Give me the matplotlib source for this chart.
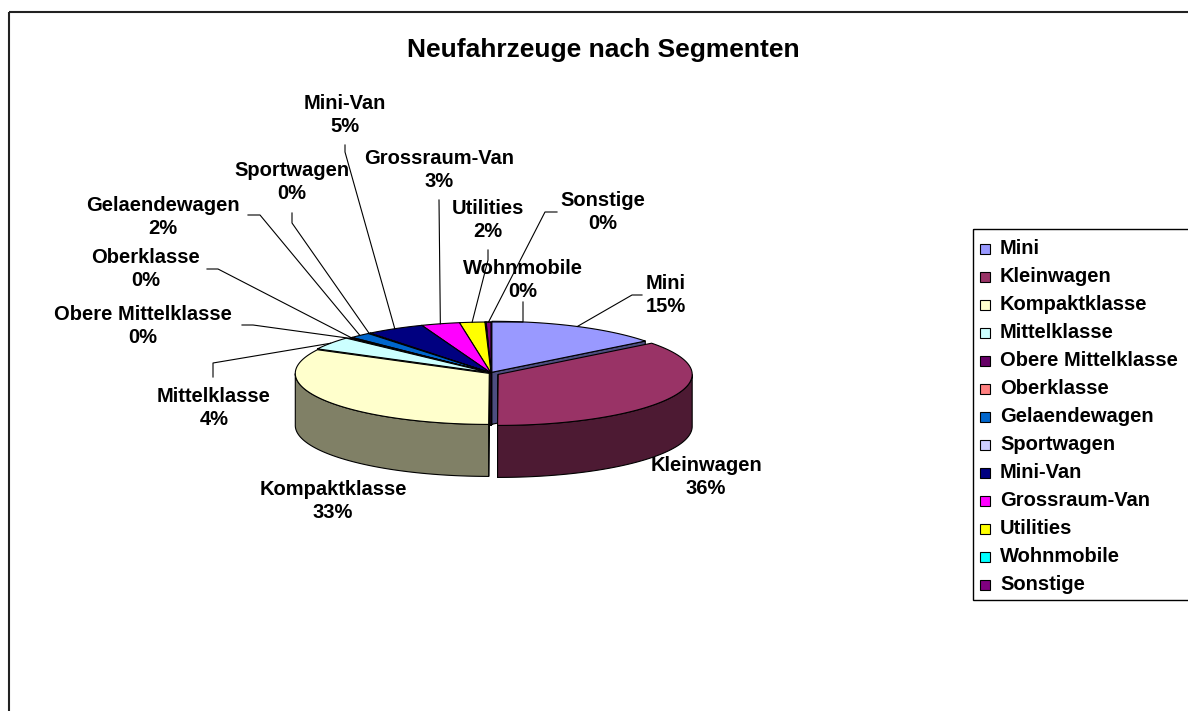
import numpy as np
import matplotlib.pyplot as plt
import matplotlib.colors as mcolors
from matplotlib.patches import Polygon, Rectangle

plt.rcParams['font.family'] = ['Liberation Sans', 'DejaVu Sans']

# Data
segments = ['Mini', 'Kleinwagen', 'Kompaktklasse', 'Mittelklasse', 'Obere Mittelklasse',
            'Oberklasse', 'Gelaendewagen', 'Sportwagen', 'Mini-Van', 'Grossraum-Van',
            'Utilities', 'Wohnmobile', 'Sonstige']
shares = [14.5, 35.5, 32.6, 4.1, 0.3, 0.2, 1.8, 0.2, 4.9, 3.2, 2.1, 0.1, 0.4]
colors = ['#9999FF', '#993366', '#FFFFCC', '#CCFFFF', '#660066', '#FF8080', '#0066CC',
          '#CCCCFF', '#000080', '#FF00FF', '#FFFF00', '#00FFFF', '#800080']
title = 'Neufahrzeuge nach Segmenten'

# Layout (pixels)
W, H = 1188, 711
cx, cy, a, b, depth = 491, 373, 194, 51, 52
explode = [2, 8, 2, 2, 0, 0, 0, 0, 0, 0, 0, 0, 0]
label_pos = {
    'Mini': (666, 282), 'Kleinwagen': (706, 464), 'Kompaktklasse': (333, 488),
    'Mittelklasse': (214, 395), 'Obere Mittelklasse': (143, 313), 'Oberklasse': (146, 256),
    'Gelaendewagen': (163, 204), 'Sportwagen': (292, 169), 'Mini-Van': (345, 102),
    'Grossraum-Van': (439, 157), 'Utilities': (488, 207), 'Wohnmobile': (523, 267),
    'Sonstige': (603, 199),
}
leaders = {
    'Mini': [(642, 295), (632, 295)], 'Mittelklasse': [(213, 377), (213, 363)],
    'Obere Mittelklasse': [(242, 325), (253, 325)], 'Oberklasse': [(207, 269), (218, 269)],
    'Gelaendewagen': [(248, 215), (260, 215)], 'Sportwagen': [(292, 213), (292, 223)],
    'Mini-Van': [(345, 145), (345, 152)], 'Grossraum-Van': [(439, 200)],
    'Utilities': [(488, 250), (488, 260)], 'Wohnmobile': [(523, 302), (523, 322)],
    'Sonstige': [(557, 212), (545, 212)],
}
fs = 14.5

fig = plt.figure(figsize=(W / 100, H / 100), dpi=100)
ax = fig.add_axes([0, 0, 1, 1])
ax.set_xlim(0, W)
ax.set_ylim(H, 0)
ax.axis('off')

# chart frame
ax.add_patch(Rectangle((9, 12), 1400, 900, fill=False, ec='#222222', lw=1.5))


def dark(c, f=0.5):
    return tuple(np.array(mcolors.to_rgb(c)) * f)


fr = np.array(shares) / np.sum(shares)
ends = 90 - 360 * np.cumsum(fr)
starts = ends + 360 * fr
mids = np.radians((starts + ends) / 2)

slices = []
for i in range(len(segments)):
    t1, t2 = np.radians(starts[i]), np.radians(ends[i])
    ox = explode[i] * np.cos(mids[i])
    oy = -explode[i] * np.sin(mids[i]) * 0.4
    slices.append((i, t1, t2, ox, oy))

order = sorted(slices, key=lambda s: -np.sin(mids[s[0]]))
for i, t1, t2, ox, oy in order:
    c0 = (cx + ox, cy + oy)
    ts = np.linspace(t1, t2, 300)
    xs = cx + ox + a * np.cos(ts)
    ys = cy + oy - b * np.sin(ts)
    kw = dict(ec='black', lw=0.8, joinstyle='round')
    # radial faces
    for t, vis in ((t1, np.cos(t1) < 0.01), (t2, np.cos(t2) > -0.01)):
        if vis:
            px, py = cx + ox + a * np.cos(t), cy + oy - b * np.sin(t)
            ax.add_patch(Polygon([c0, (px, py), (px, py + depth), (c0[0], c0[1] + depth)],
                                 closed=True, fc=dark(colors[i]), **kw))
    # outer wall
    front = np.sin(ts) < 0
    if front.sum() > 1:
        fx, fy = xs[front], ys[front]
        pts = list(zip(fx, fy)) + list(zip(fx[::-1], fy[::-1] + depth))
        ax.add_patch(Polygon(pts, closed=True, fc=dark(colors[i]), **kw))
    # top
    pts = [c0] + list(zip(xs, ys))
    ax.add_patch(Polygon(pts, closed=True, fc=colors[i], **kw))

# labels and leader lines
for i, name in enumerate(segments):
    lx, ly = label_pos[name]
    pct = int(shares[i] + 0.5)
    ax.text(lx, ly + 13, f'{name}\n{pct}%', ha='center', va='center', fontsize=fs,
            fontweight='bold', linespacing=1.3)
    if name in leaders:
        ox = explode[i] * np.cos(mids[i])
        oy = -explode[i] * np.sin(mids[i]) * 0.4
        rx = cx + ox + a * np.cos(mids[i])
        ry = cy + oy - b * np.sin(mids[i])
        pts = leaders[name] + [(rx, ry)]
        ax.plot([p[0] for p in pts], [p[1] for p in pts], color='black', lw=0.8)

ax.text(603, 50, title, ha='center', va='center', fontsize=19, fontweight='bold')

# legend
ax.add_patch(Rectangle((973, 229), 400, 371, fill=False, ec='black', lw=1))
for i, name in enumerate(segments):
    y = 249 + 28 * i
    ax.add_patch(Rectangle((980, y - 5), 10, 10, fc=colors[i], ec='black', lw=0.8))
    ax.text(1000, y, name, ha='left', va='center', fontsize=fs, fontweight='bold')

fig.savefig('out.png', dpi=100)
